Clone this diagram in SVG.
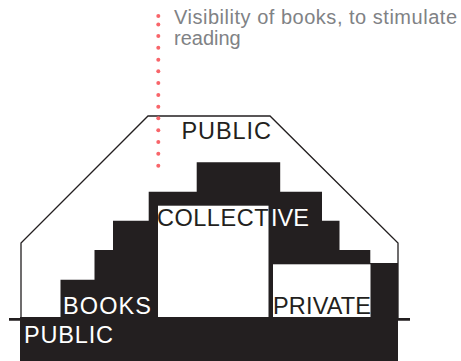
<svg xmlns="http://www.w3.org/2000/svg" width="461" height="361" viewBox="0 0 461 361">
<style>
text{font-family:"Liberation Sans",Arial,sans-serif}
.l{font-size:23.5px}
.w{fill:#fff}
.k{fill:#231f20}
.n{font-size:20px;fill:#808285}
.d{fill:#f8656a}
</style>
<rect width="461" height="361" fill="#fff"/>
<g id="building-outline" fill="none" stroke="#231f20">
<path d="M21 318V243L148 116H270L398 243V318" stroke-width="1.3"/>
<path d="M9 319.3H21M398 319.3H410" stroke-width="2.8"/>
</g>
<g id="books-mass">
<path class="k" d="M20 361V317H60.5V279.7H94.5V250H113V220.7H148.7V191.7H196.7V162.3H280.2V191.7H322V220.7H339.5V250H370.3V263H398V361Z"/>
<rect x="158" y="205.7" width="110.5" height="111.3" fill="#fff"/>
<rect x="273" y="264.3" width="97.5" height="52.7" fill="#fff"/>
</g>
<g id="dots">
<circle class="d" cx="158.3" cy="16" r="2"/><circle class="d" cx="158.3" cy="24.5" r="2"/><circle class="d" cx="158.3" cy="36" r="2"/><circle class="d" cx="158.3" cy="47.7" r="2"/><circle class="d" cx="158.3" cy="59.7" r="2"/><circle class="d" cx="158.3" cy="71.3" r="2"/><circle class="d" cx="158.3" cy="83" r="2"/><circle class="d" cx="158.3" cy="95" r="2"/><circle class="d" cx="158.3" cy="106.7" r="2"/><circle class="d" cx="158.3" cy="118.3" r="2"/><circle class="d" cx="158.3" cy="130.3" r="2"/><circle class="d" cx="158.3" cy="142" r="2"/><circle class="d" cx="158.3" cy="153.7" r="2"/><circle class="d" cx="158.3" cy="165.7" r="2"/>
</g>
<g id="labels">
<text class="n" x="174" y="23.5" textLength="283">Visibility of books, to stimulate</text>
<text class="n" x="174" y="45">reading</text>
<text class="l k" x="181.5" y="138.5" textLength="89.5">PUBLIC</text>
<text class="l k" x="157" y="225.5" textLength="111.5">COLLECT</text>
<text class="l w" x="271" y="225.5" textLength="38">IVE</text>
<text class="l w" x="63" y="313.5" textLength="88">BOOKS</text>
<text class="l w" x="24" y="342.5" textLength="89">PUBLIC</text>
<text class="l k" x="273" y="313.5" textLength="98">PRIVATE</text>
</g>
</svg>
